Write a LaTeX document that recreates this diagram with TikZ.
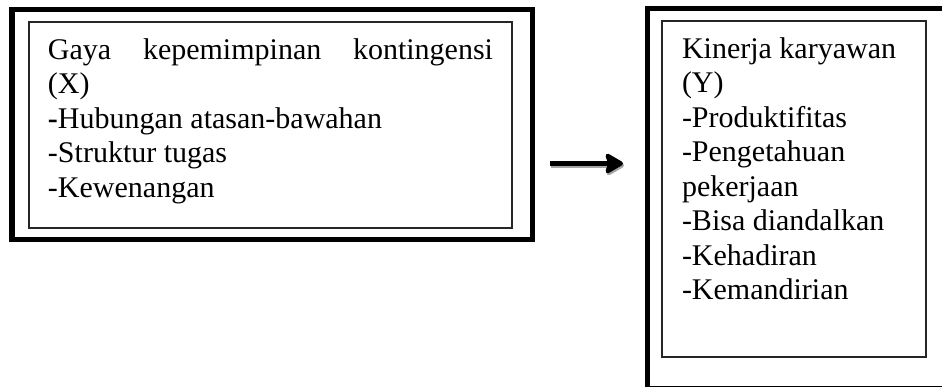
\documentclass[tikz,border=0pt]{standalone}
\usepackage{fontspec}
\setmainfont{Liberation Serif}
\usetikzlibrary{arrows.meta}
\begin{document}
\begin{tikzpicture}[x=0.4pt,y=-0.4pt,
  outerbox/.style={draw=black,line width=2pt,inner sep=0pt,outer sep=0pt,anchor=north west},
  innerbox/.style={draw=black!85,line width=0.55pt,inner sep=0pt,outer sep=0pt,anchor=north west},
  txt/.style={anchor=base west,inner sep=0pt,outer sep=0pt,font=\fontsize{12pt}{13.8pt}\selectfont},
  bigarrow/.style={-{Stealth[length=8.4pt,width=9.6pt,inset=1.6pt,round]},line width=2.1pt}]
\clip (0,0) rectangle (942,387);
\fill[white] (0,0) rectangle (942,387);
% left box
\node[outerbox,minimum width=208.2pt,minimum height=92pt] (LO) at (12,9.5) {};
\node[innerbox,minimum width=193.2pt,minimum height=82.4pt] (LI) at (29,22) {};
\node[txt] (l1) at (48,59) {\makebox[178pt][s]{Gaya kepemimpinan kontingensi}};
\node[txt] (l2) at (48,93.5) {(X)};
\node[txt] (l3) at (48,128) {\textbf{-}Hubungan atasan-bawahan};
\node[txt] (l4) at (48,162.5) {-Struktur tugas};
\node[txt] (l5) at (48,197) {-Kewenangan};
% right box
\node[outerbox,minimum width=119.4pt,minimum height=152pt] (RO) at (647.5,8.5) {};
\node[innerbox,minimum width=105.6pt,minimum height=134.4pt] (RI) at (662,21) {};
\node[txt] (r1) at (682,58) {Kinerja karyawan};
\node[txt] (r2) at (682,92.5) {(Y)};
\node[txt] (r3) at (682,127) {-Produktifitas};
\node[txt] (r4) at (682,161.5) {-Pengetahuan};
\node[txt] (r5) at (682,196) {pekerjaan};
\node[txt] (r6) at (682,230.5) {-Bisa diandalkan};
\node[txt] (r7) at (682,265) {-Kehadiran};
\node[txt] (r8) at (682,299.5) {-Kemandirian};
% arrow
\coordinate (a1) at (550,163.5);
\coordinate (a2) at (623,163.5);
\coordinate (s1) at (551,165.5);
\coordinate (s2) at (624,165.5);
\draw[bigarrow,black!35] (s1) -- (s2);
\draw[bigarrow] (a1) -- (a2);
\end{tikzpicture}
\end{document}
